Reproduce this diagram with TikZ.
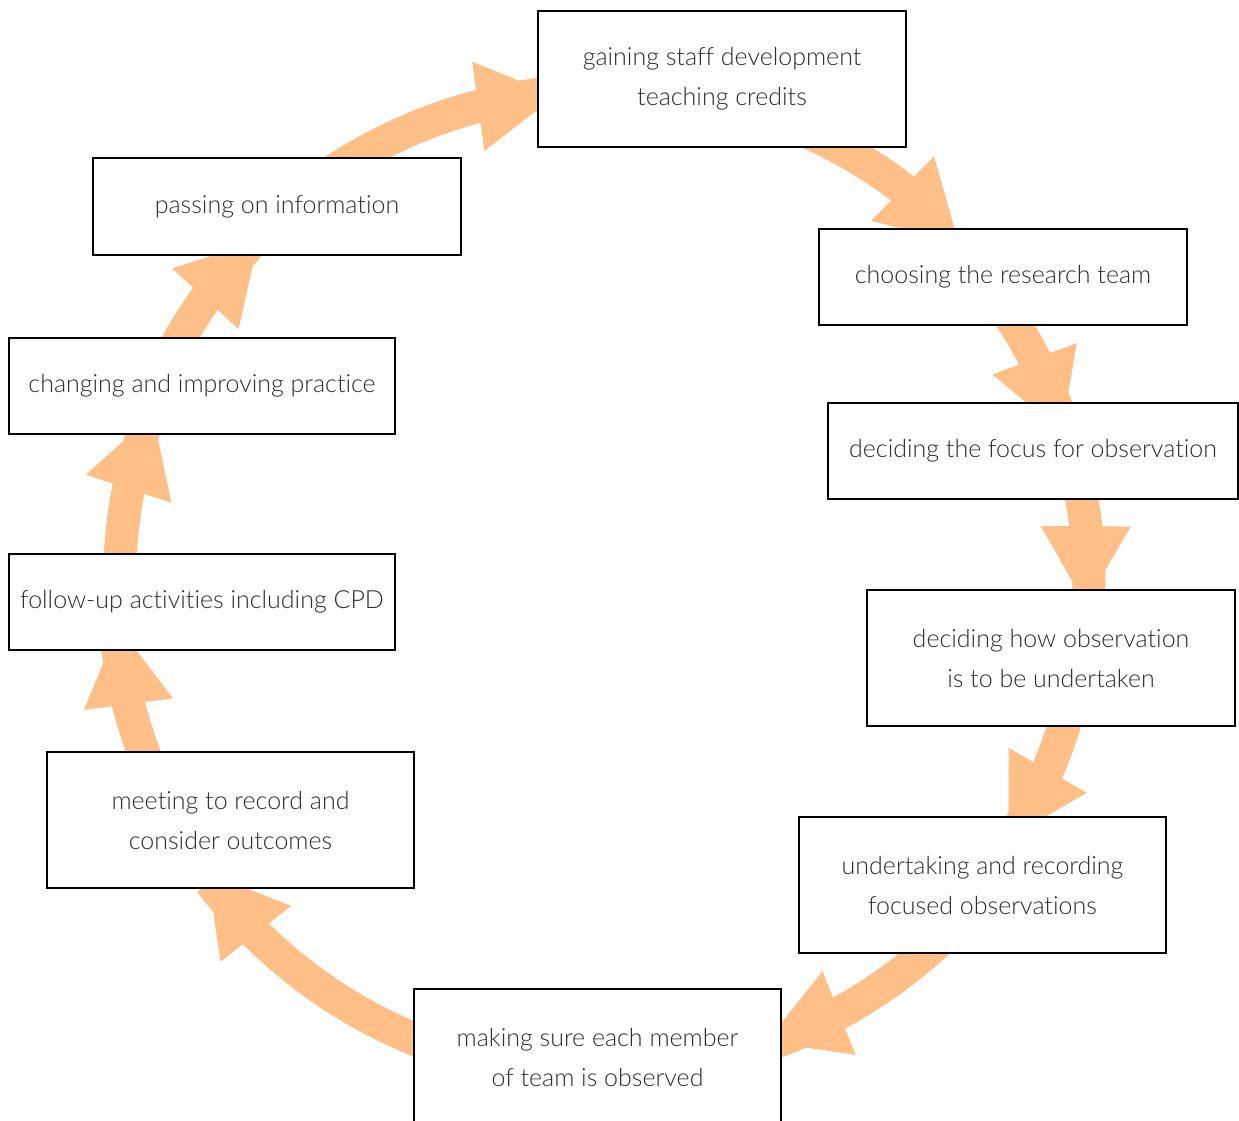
\documentclass[tikz,border=0pt]{standalone}
\usepackage{fontspec}
\IfFontExistsTF{Lato Light}{\setmainfont{Lato Light}[Ligatures={NoCommon}]}{\setmainfont{TeX Gyre Heros}}
\usetikzlibrary{calc}
\definecolor{arrowcol}{RGB}{255,191,134}
\definecolor{textcol}{RGB}{45,45,45}
\newcommand\cx{604}
\newcommand\cy{582}
% #1 radius, #2 start angle, #3 head base angle, #4 coordinate name, #5 body overrun angle
\newcommand\cyclearrow[5]{%
  \pgfmathsetmacro\endang{#3+#5}%
  \draw[flowbody] plot[domain=#2:\endang, samples=40, variable=\t] ({\cx+#1*cos(\t)},{\cy+#1*sin(\t)});
  \coordinate (#4) at ({\cx+#1*cos(#3)},{\cy+#1*sin(#3)});
  \fill[flowhead] ($(#4)+({#3+7}:45)$) -- ($(#4)+({#3+187}:45)$) -- ($(#4)+({#3+97}:78)$) -- cycle;
}
\begin{document}
\begin{tikzpicture}[x=1pt,y=-1pt,
  box/.style={draw=black, line width=1.3pt, fill=white, text=textcol, align=center,
    font=\fontsize{25}{40}\selectfont, inner sep=0pt},
  flowbody/.style={draw=arrowcol, line width=33pt, line join=round},
  flowhead/.style={fill=arrowcol}]
\useasboundingbox (0,0) rectangle (1239,1120);
% arrows (behind the boxes)
\cyclearrow{492}{228}{255.2}{hA}{8}
\cyclearrow{494}{285}{307.2}{hB}{5}
\cyclearrow{485}{322.6}{332.6}{hC}{8}
\cyclearrow{485}{343}{353.4}{hD}{8}
\cyclearrow{482}{9.6}{23}{hE}{8}
\cyclearrow{491}{38.7}{61.4}{hF}{8}
\cyclearrow{495}{90.8}{134.7}{hG}{8}
\cyclearrow{491}{147.5}{165.6}{hH}{8}
\cyclearrow{484.5}{177.2}{191.1}{hI}{8}
\cyclearrow{489}{206}{215.4}{hJ}{8}
% boxes
\node[box, minimum width=368pt, minimum height=136pt] (n1) at (722,79) {gaining staff development\\teaching credits};
\node[box, minimum width=368pt, minimum height=96pt] (n2) at (1003,277) {choosing the research team};
\node[box, minimum width=410pt, minimum height=96pt] (n3) at (1033,451) {deciding the focus for observation};
\node[box, minimum width=368pt, minimum height=136pt] (n4) at (1051,658) {deciding how observation\\is to be undertaken};
\node[box, minimum width=367pt, minimum height=136pt] (n5) at (982.5,885) {undertaking and recording\\focused observations};
\node[box, minimum width=367pt, minimum height=136pt] (n6) at (597.5,1057) {making sure each member\\of team is observed};
\node[box, minimum width=367pt, minimum height=136pt] (n7) at (230.5,820) {meeting to record and\\consider outcomes};
\node[box, minimum width=386pt, minimum height=96pt] (n8) at (202,602) {follow-up activities including CPD};
\node[box, minimum width=386pt, minimum height=96pt] (n9) at (202,386) {changing and improving practice};
\node[box, minimum width=368pt, minimum height=97pt] (n10) at (277,206.5) {passing on information};
\end{tikzpicture}
\end{document}
